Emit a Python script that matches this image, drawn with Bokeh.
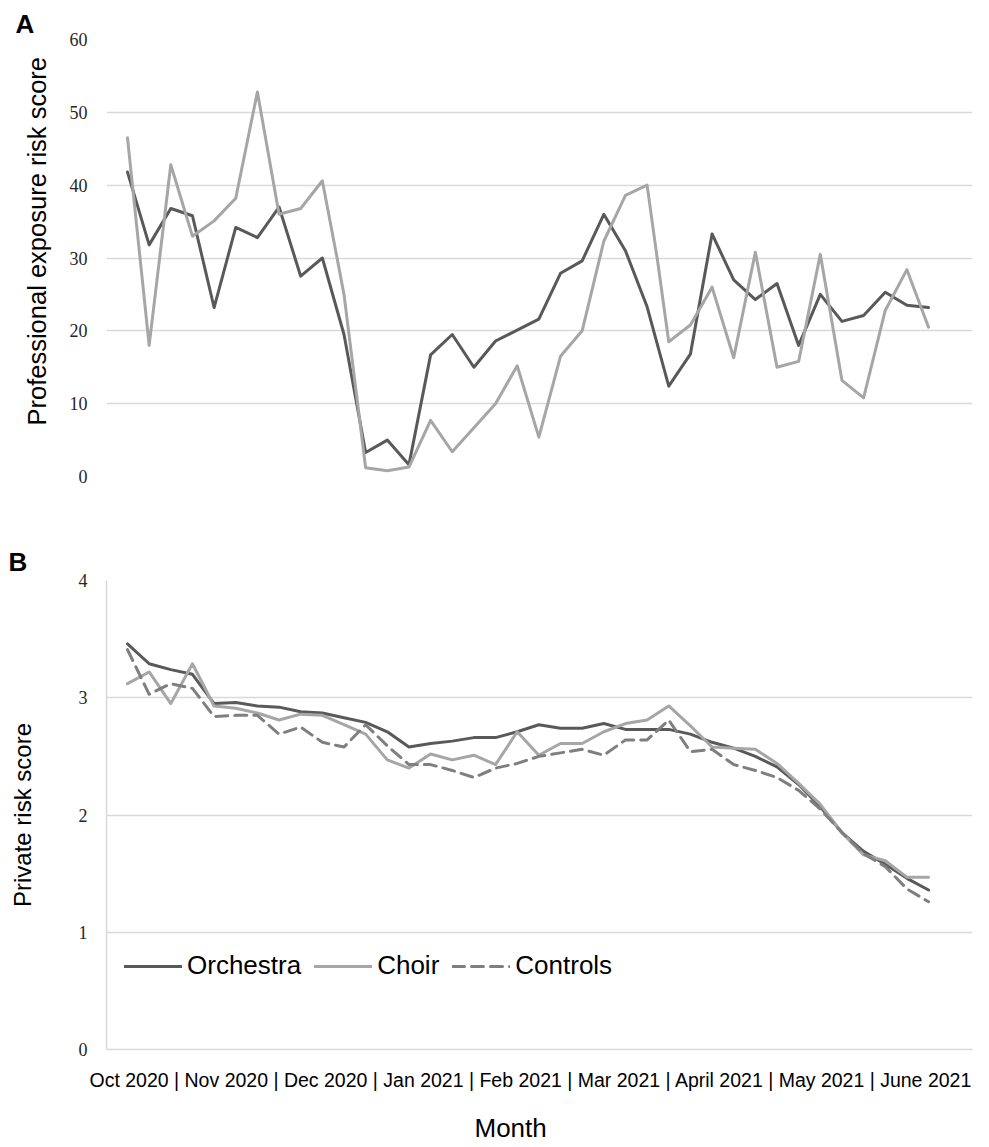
from bokeh.plotting import figure
from bokeh.layouts import column
from bokeh.models import Legend, LegendItem, Title, FixedTicker, Range1d
from bokeh.embed import file_html
from bokeh.resources import INLINE

# ---------------- data ----------------
weeks = list(range(1, 39))
month_axis_label = ("Oct 2020 | Nov 2020 | Dec 2020 | Jan 2021 | Feb 2021 | "
                    "Mar 2021 | April 2021 | May 2021 | June 2021")
x_title = "Month"
prof_title = "Professional exposure risk score"
priv_title = "Private risk score"
series_names = ["Orchestra", "Choir", "Controls"]

prof_ticks = [0, 10, 20, 30, 40, 50, 60]
priv_ticks = [0, 1, 2, 3, 4]

prof_orchestra = [41.8, 31.8, 36.8, 35.8, 23.2, 34.2, 32.8, 37.0, 27.5, 30.0,
                  19.5, 3.3, 5.0, 1.6, 16.7, 19.5, 15.0, 18.6, 20.1, 21.6,
                  27.9, 29.6, 36.0, 31.0, 23.3, 12.4, 16.8, 33.3, 27.0, 24.3,
                  26.5, 18.0, 25.0, 21.3, 22.1, 25.3, 23.5, 23.2]
prof_choir = [46.5, 18.0, 42.8, 33.0, 35.1, 38.2, 52.8, 36.0, 36.8, 40.6,
              25.0, 1.2, 0.8, 1.3, 7.7, 3.4, 6.7, 10.0, 15.2, 5.4,
              16.5, 20.0, 32.3, 38.6, 40.0, 18.5, 20.8, 26.0, 16.3, 30.8,
              15.0, 15.8, 30.5, 13.2, 10.8, 22.8, 28.4, 20.5]

priv_orchestra = [3.46, 3.29, 3.24, 3.20, 2.95, 2.96, 2.93, 2.92, 2.88, 2.87,
                  2.83, 2.79, 2.71, 2.58, 2.61, 2.63, 2.66, 2.66, 2.71, 2.77,
                  2.74, 2.74, 2.78, 2.73, 2.73, 2.73, 2.69, 2.62, 2.57, 2.50,
                  2.41, 2.26, 2.07, 1.85, 1.69, 1.58, 1.46, 1.36]
priv_choir = [3.12, 3.22, 2.95, 3.29, 2.93, 2.91, 2.87, 2.81, 2.86, 2.85,
              2.77, 2.69, 2.47, 2.40, 2.52, 2.47, 2.51, 2.43, 2.71, 2.51,
              2.61, 2.61, 2.71, 2.78, 2.81, 2.93, 2.76, 2.58, 2.57, 2.56,
              2.44, 2.27, 2.09, 1.85, 1.66, 1.61, 1.47, 1.47]
priv_controls = [3.41, 3.03, 3.12, 3.08, 2.84, 2.85, 2.85, 2.69, 2.75, 2.62,
                 2.58, 2.77, 2.59, 2.43, 2.43, 2.38, 2.32, 2.40, 2.44, 2.50,
                 2.53, 2.56, 2.51, 2.64, 2.64, 2.81, 2.54, 2.56, 2.43, 2.38,
                 2.32, 2.21, 2.05, 1.85, 1.67, 1.56, 1.37, 1.26]

# ---------------- style ----------------
C_ORCH = "#595959"
C_CHOIR = "#a6a6a6"
C_CTRL = "#7f7f7f"
GRID = "#d9d9d9"
SANS = "Liberation Sans"
SERIF = "Liberation Serif"


def style_y(p, ticks, axis_line):
    ax = p.yaxis[0]
    ax.ticker = FixedTicker(ticks=ticks)
    ax.major_tick_line_color = None
    ax.minor_tick_line_color = None
    ax.major_tick_out = 0
    ax.major_label_standoff = 19
    ax.major_label_text_font = SERIF
    ax.major_label_text_font_size = "18px"
    ax.major_label_text_color = "#262626"
    if axis_line:
        ax.axis_line_color = GRID
        ax.axis_line_width = 1.5
    else:
        ax.axis_line_color = None
    p.ygrid.grid_line_color = GRID
    p.ygrid.grid_line_width = 1.5
    p.xgrid.visible = False
    p.outline_line_color = None


def panel_letter(p, letter, offset, standoff):
    p.title.text = letter
    p.title.align = "left"
    p.title.offset = offset
    p.title.standoff = standoff
    p.title.text_font = SANS
    p.title.text_font_style = "bold"
    p.title.text_font_size = "26px"
    p.title.text_color = "#000000"


x_lo, x_hi = weeks[0] - 0.97, weeks[-1] + 2.03

# ---------------- panel A ----------------
pA = figure(width=981, height=540, x_range=Range1d(x_lo, x_hi), y_range=Range1d(0, 60),
            output_backend="svg", toolbar_location=None,
            min_border_left=102, min_border_right=9, min_border_top=39, min_border_bottom=64)
style_y(pA, prof_ticks, False)
pA.add_layout(Title(text=prof_title, align="left", offset=51, standoff=32, text_font=SANS,
                    text_font_style="normal", text_font_size="25.5px",
                    text_color="#000000"), "left")
pA.xaxis.visible = False
pA.line(weeks, prof_orchestra, line_color=C_ORCH, line_width=3, line_join="round", line_cap="round")
pA.line(weeks, prof_choir, line_color=C_CHOIR, line_width=3, line_join="round", line_cap="round")
panel_letter(pA, "A", -91, 2)

# ---------------- panel B ----------------
pB = figure(width=981, height=604, x_range=Range1d(x_lo, x_hi), y_range=Range1d(0, 4),
            output_backend="svg", toolbar_location=None,
            min_border_left=106, min_border_right=9, min_border_top=39, min_border_bottom=92)
style_y(pB, priv_ticks, True)
pB.yaxis[0].axis_label = priv_title
pB.yaxis[0].axis_label_text_font = SANS
pB.yaxis[0].axis_label_text_font_style = "normal"
pB.yaxis[0].axis_label_text_font_size = "24px"
pB.yaxis[0].axis_label_text_color = "#000000"
pB.yaxis[0].axis_label_standoff = 40
panel_letter(pB, "B", -98, 8)

xa = pB.xaxis[0]
xa.ticker = FixedTicker(ticks=[])
xa.major_tick_line_color = None
xa.minor_tick_line_color = None
xa.major_tick_out = 0
xa.major_label_standoff = 0
xa.axis_line_color = GRID
xa.axis_line_width = 1.5

r_orch = pB.line(weeks, priv_orchestra, line_color=C_ORCH, line_width=3, line_join="round", line_cap="round")
r_choir = pB.line(weeks, priv_choir, line_color=C_CHOIR, line_width=3, line_join="round", line_cap="round")
r_ctrl = pB.line(weeks, priv_controls, line_color=C_CTRL, line_width=3, line_dash="12 7",
                 line_join="round", line_cap="round")

legend = Legend(items=[LegendItem(label=series_names[0], renderers=[r_orch]),
                       LegendItem(label=series_names[1], renderers=[r_choir]),
                       LegendItem(label=series_names[2], renderers=[r_ctrl])],
                location=(18, 68), orientation="horizontal",
                glyph_width=58, glyph_height=30, label_height=30, label_standoff=5,
                spacing=13, padding=0, margin=0, border_line_color=None,
                background_fill_alpha=0, label_text_font=SANS,
                label_text_font_size="26px", label_text_color="#000000")
pB.add_layout(legend, "center")

pB.add_layout(Title(text=month_axis_label, align="left", offset=-17, standoff=35,
                    text_font=SANS, text_font_style="normal", text_font_size="19.5px",
                    text_color="#000000"), "below")
pB.add_layout(Title(text=x_title, align="left", offset=368, standoff=4, text_font=SANS,
                    text_font_style="normal", text_font_size="26px",
                    text_color="#000000"), "below")

layout = column(pA, pB, spacing=0)
with open("out.html", "w") as f:
    f.write(file_html(layout, INLINE))
